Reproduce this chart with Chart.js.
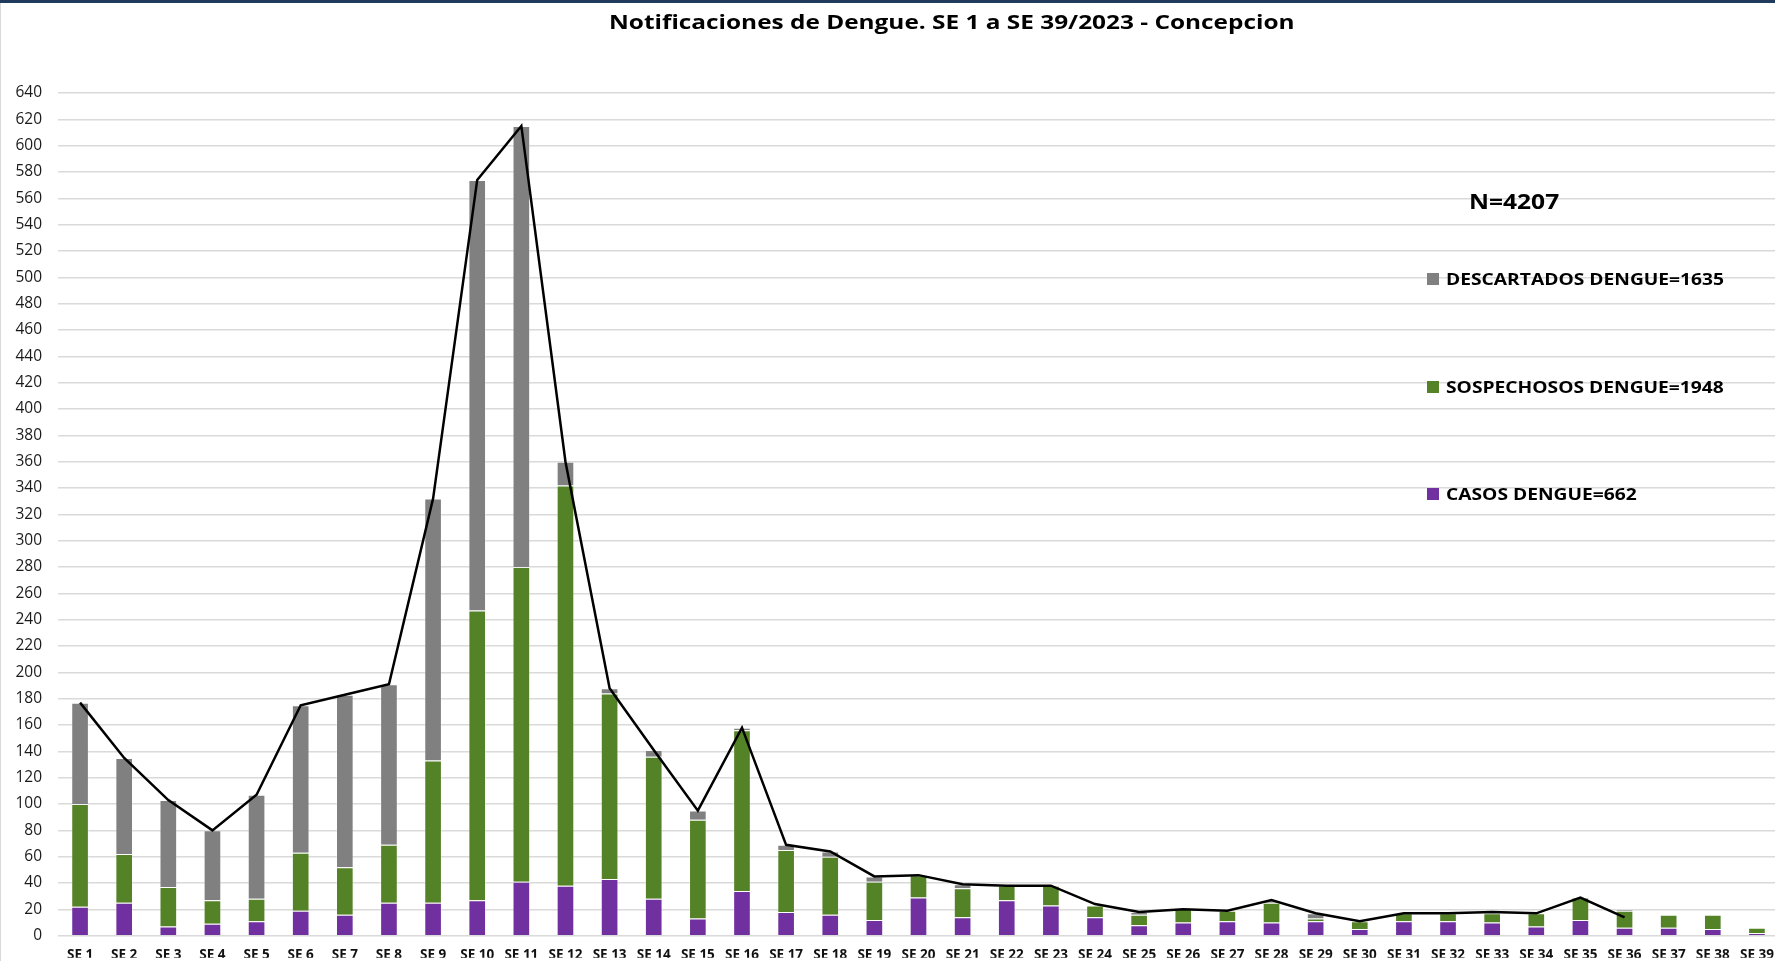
<!DOCTYPE html>
<html>
<head>
<meta charset="utf-8">
<script src="https://cdn.jsdelivr.net/npm/chart.js@4"></script>
<style>
  html, body { margin: 0; padding: 0; background: #fff; overflow: hidden; }
  #wrap { position: absolute; left: 0; top: 0; width: 1790px; height: 961px; }
</style>
</head>
<body>
<div id="wrap"><canvas id="dengue-chart" width="1790" height="961"></canvas></div>
<script>
// Semanas epidemiologicas
const semanas = ['SE 1', 'SE 2', 'SE 3', 'SE 4', 'SE 5', 'SE 6', 'SE 7', 'SE 8', 'SE 9', 'SE 10',
    'SE 11', 'SE 12', 'SE 13', 'SE 14', 'SE 15', 'SE 16', 'SE 17', 'SE 18', 'SE 19', 'SE 20',
    'SE 21', 'SE 22', 'SE 23', 'SE 24', 'SE 25', 'SE 26', 'SE 27', 'SE 28', 'SE 29', 'SE 30',
    'SE 31', 'SE 32', 'SE 33', 'SE 34', 'SE 35', 'SE 36', 'SE 37', 'SE 38', 'SE 39'];

// Series
const casos = [22, 25, 7, 9, 11, 19, 16, 25, 25, 27, 41, 38, 43, 28, 13, 34, 18, 16, 12, 29,
    14, 27, 23, 14, 8, 10, 11, 10, 11, 5, 11, 11, 10, 7, 12, 6, 6, 5, 2];
const sospechosos = [78, 37, 30, 18, 17, 44, 36, 44, 108, 220, 239, 304, 141, 108, 75, 122, 47, 44, 29, 17,
    22, 11, 15, 9, 8, 10, 8, 15, 2, 6, 6, 6, 7, 10, 17, 13, 10, 11, 4];
const descartados = [77, 73, 66, 53, 79, 112, 131, 122, 199, 327, 335, 18, 4, 5, 7, 2, 4, 4, 4, 0,
    3, 0, 0, 0, 2, 0, 0, 2, 4, 0, 0, 0, 1, 0, 0, 1, 0, 0, 0];
// Linea de total de notificaciones (termina en SE 36)
const totales = [177, 135, 103, 80, 107, 175, 183, 191, 332, 574, 615, 360, 188, 141, 95, 158, 69, 64, 45, 46,
    39, 38, 38, 24, 18, 20, 19, 27, 17, 11, 17, 17, 18, 17, 29, 14, null, null, null];

// Texts
const titulo = 'Notificaciones de Dengue. SE 1 a SE 39/2023 - Concepcion';
const totalTexto = 'N=4207';
const etiquetas = {
    descartados: 'DESCARTADOS DENGUE=1635',
    sospechosos: 'SOSPECHOSOS DENGUE=1948',
    casos: 'CASOS DENGUE=662'
};

const FONT = "'Open Sans', 'Noto Sans', sans-serif";

// Draws title, N and the legend on top of the plot
const extrasPlugin = {
    id: 'extras',
    afterDraw(chart) {
        const ctx = chart.ctx;
        ctx.save();
        // dark strip on top of the picture
        ctx.fillStyle = '#1f3a5c';
        ctx.fillRect(0, 0, 1775, 3);
        ctx.fillStyle = '#d9d9d9';
        ctx.fillRect(0, 3, 1, 958);

        // stretched text helper
        function text(str, x, y, font, sx) {
            ctx.save();
            ctx.font = font;
            ctx.translate(x, y);
            ctx.scale(sx, 1);
            ctx.fillText(str, 0, 0);
            ctx.restore();
        }

        ctx.fillStyle = '#000';
        ctx.textBaseline = 'alphabetic';
        ctx.textAlign = 'left';
        text(titulo, 609, 29, 'bold 19.5px ' + FONT, 1.25);
        text(totalTexto, 1469, 209, 'bold 21px ' + FONT, 1.17);

        // legend: top series first
        const items = chart.data.datasets.filter(d => d.type !== 'line').slice().reverse();
        const ys = [279, 387, 494];
        items.forEach((d, i) => {
            ctx.fillStyle = d.backgroundColor;
            ctx.fillRect(1427, ys[i] - 6, 12, 12);
            ctx.fillStyle = '#000';
            text(d.label, 1446, ys[i] + 6, 'bold 15.5px ' + FONT, 1.24);
        });
        ctx.restore();
    }
};

const ctx = document.getElementById('dengue-chart').getContext('2d');

new Chart(ctx, {
    type: 'bar',
    data: {
        labels: semanas,
        datasets: [
            {
                type: 'line',
                label: 'Total',
                data: totales,
                borderColor: '#000',
                borderWidth: 2.5,
                pointRadius: 0,
                tension: 0,
                fill: false,
                spanGaps: false,
                stack: 'total',
                order: 0
            },
            {
                label: etiquetas.casos,
                data: casos,
                backgroundColor: '#7030a0',
                borderColor: 'rgba(255,255,255,0.3)',
                borderWidth: 1,
                stack: 'notif',
                order: 1
            },
            {
                label: etiquetas.sospechosos,
                data: sospechosos,
                backgroundColor: '#548226',
                borderColor: 'rgba(255,255,255,0.25)',
                borderWidth: 1,
                stack: 'notif',
                order: 1
            },
            {
                label: etiquetas.descartados,
                data: descartados,
                backgroundColor: '#808080',
                borderColor: 'rgba(255,255,255,0.25)',
                borderWidth: 1,
                stack: 'notif',
                order: 1
            }
        ]
    },
    options: {
        responsive: false,
        animation: false,
        layout: { padding: { top: 93, right: 11, bottom: 0, left: 0 } },
        datasets: {
            bar: { categoryPercentage: 1, barPercentage: 0.4 }
        },
        plugins: {
            legend: { display: false },
            title: { display: false },
            tooltip: { enabled: false }
        },
        scales: {
            x: {
                stacked: true,
                grid: { display: false, drawTicks: false },
                border: { display: false },
                afterFit: (axis) => { axis.height = 22; },
                ticks: {
                    autoSkip: false,
                    maxRotation: 0,
                    padding: 11,
                    color: '#111',
                    font: { family: FONT, size: 13.5, weight: 'bold' }
                }
            },
            y: {
                stacked: true,
                min: 0,
                max: 640,
                grid: { color: '#dadada', lineWidth: 1.6, drawTicks: false },
                border: { display: false },
                afterFit: (axis) => { axis.width = 58; },
                ticks: {
                    stepSize: 20,
                    padding: 16,
                    color: '#1a1a1a',
                    font: { family: FONT, size: 15.5 }
                }
            }
        }
    },
    plugins: [extrasPlugin]
});
</script>
</body>
</html>
